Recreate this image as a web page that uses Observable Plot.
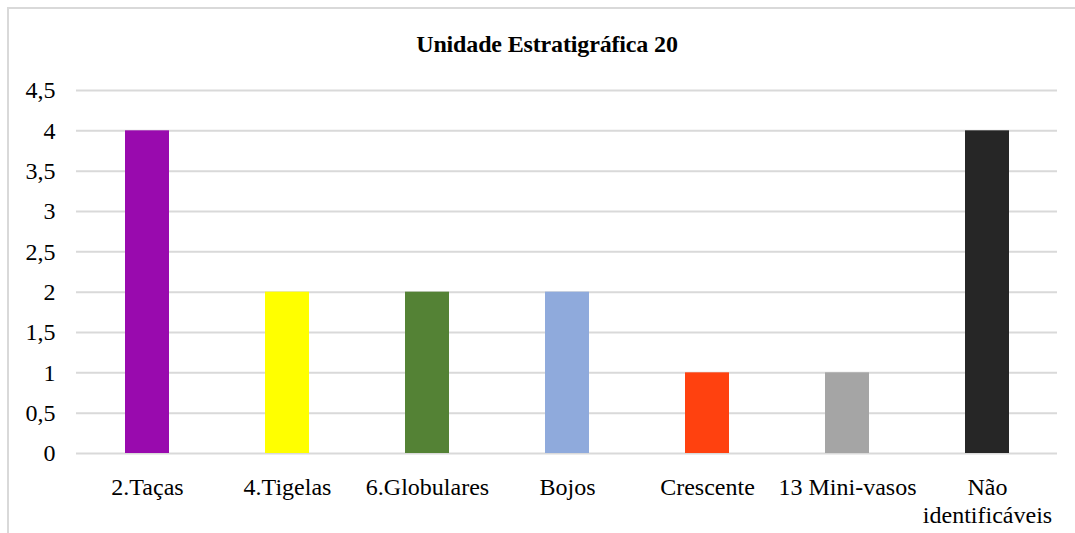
<!DOCTYPE html>
<html>
<head>
<meta charset="utf-8">
<script src="https://cdn.jsdelivr.net/npm/d3@7"></script>
<script src="https://cdn.jsdelivr.net/npm/@observablehq/plot@0.6"></script>
<style>
  body { margin: 0; padding: 0; background: #fff; }
  .wrap { position: relative; width: 1075px; height: 533px; overflow: hidden; }
  .frame { position: absolute; left: 7px; top: 7px; width: 1200px; height: 700px; border: 2px solid #d9d9d9; box-sizing: border-box; }
  .title { position: absolute; left: 0; width: 1094px; top: 31px; text-align: center; font-family: "Liberation Serif", serif; font-weight: bold; font-size: 24px; letter-spacing: -0.15px; line-height: normal; color: #000; }
  .chart { position: absolute; left: 0; top: 0; }
</style>
</head>
<body>
<div class="wrap">
  <div class="frame"></div>
  <div class="title" style="font-family:'Liberation Serif'">Unidade Estratigráfica 20</div>
  <div class="chart" id="chart"></div>
</div>
<script>
const categories = ["2.Taças", "4.Tigelas", "6.Globulares", "Bojos", "Crescente", "13 Mini-vasos", "Não identificáveis"];
const values = [4, 2, 2, 2, 1, 1, 4];
const colors = ["#990AAE", "#FFFF00", "#548235", "#8FAADC", "#FF410F", "#A5A5A5", "#262626"];
const yTicks = [0, 0.5, 1, 1.5, 2, 2.5, 3, 3.5, 4, 4.5];

const data = categories.map((c, i) => ({cat: c, value: values[i], color: colors[i]}));
const fmt = d => String(d).replace(".", ",");

const chart = Plot.plot({
  width: 1075,
  height: 533,
  marginLeft: 76,
  marginRight: 18,
  marginTop: 90,
  marginBottom: 80,
  style: {fontFamily: "Liberation Serif", fontSize: "24px", color: "#000", background: "transparent"},
  x: {domain: categories, paddingInner: 0.686, paddingOuter: 0.343, label: null},
  y: {domain: [0, 4.5], label: null},
  color: {type: "identity"},
  marks: [
    Plot.gridY(yTicks, {stroke: "#d9d9d9", strokeOpacity: 1, strokeWidth: 2}),
    Plot.barY(data, {x: "cat", y: "value", fill: "color"}),
    Plot.axisY(yTicks, {tickSize: 0, tickPadding: 21, tickFormat: fmt, fontSize: 24}),
    Plot.axisX({tickSize: 0, tickPadding: 22, fontSize: 24, lineHeight: 1.15,
      tickFormat: d => d === "Não identificáveis" ? "Não\nidentificáveis" : d})
  ]
});
chart.querySelectorAll("text").forEach(t => t.style.fontFamily = "Liberation Serif");
document.getElementById("chart").appendChild(chart);
</script>
</body>
</html>
